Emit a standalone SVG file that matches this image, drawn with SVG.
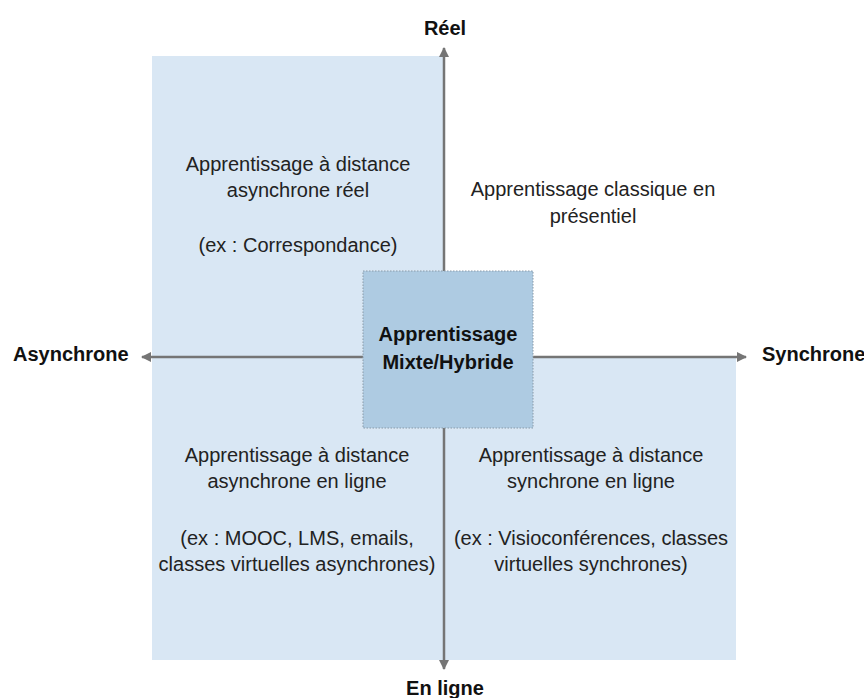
<svg xmlns="http://www.w3.org/2000/svg" width="864" height="698" viewBox="0 0 864 698">
<defs>
<style>
.t{font-family:"Liberation Sans",Arial,sans-serif;font-size:20px;fill:#222;text-anchor:middle}
.b{font-family:"Liberation Sans",Arial,sans-serif;font-size:20px;font-weight:bold;fill:#111}
.ax{stroke:#757575;stroke-width:2.5;fill:none}
.q{fill:#d9e7f4}
</style>
<marker id="ah" viewBox="0 0 10 10" refX="9" refY="5" markerWidth="4" markerHeight="4" orient="auto" markerUnits="strokeWidth">
<path d="M0,0 L10,5 L0,10 z" fill="#757575"/>
</marker>
</defs>
<rect width="864" height="698" fill="#fff"/>
<g id="quadrants">
<rect class="q" x="152" y="56" width="292" height="604"/>
<rect class="q" x="444" y="357" width="292" height="303"/>
</g>
<g id="connectors">
<line class="ax" x1="444" y1="357" x2="444" y2="48" marker-end="url(#ah)"/>
<line class="ax" x1="444" y1="357" x2="444" y2="669" marker-end="url(#ah)"/>
<line class="ax" x1="444" y1="357" x2="142" y2="357" marker-end="url(#ah)"/>
<line class="ax" x1="444" y1="357" x2="746" y2="357" marker-end="url(#ah)"/>
</g>
<g id="center">
<rect x="363" y="271" width="170" height="157" fill="#aecbe2" stroke="#8a9aa8" stroke-width="1" stroke-dasharray="1.5,1.5"/>
<text class="b" x="448" y="341" text-anchor="middle">Apprentissage</text>
<text class="b" x="448" y="369" text-anchor="middle">Mixte/Hybride</text>
</g>
<g id="axis-labels">
<text class="b" x="445" y="35" text-anchor="middle">Réel</text>
<text class="b" x="445" y="695" text-anchor="middle">En ligne</text>
<text class="b" x="13" y="361">Asynchrone</text>
<text class="b" x="762" y="361">Synchrone</text>
</g>
<g id="q1">
<text class="t" x="298" y="171">Apprentissage à distance</text>
<text class="t" x="298" y="197">asynchrone réel</text>
<text class="t" x="298" y="252">(ex : Correspondance)</text>
</g>
<g id="q2">
<text class="t" x="593" y="196">Apprentissage classique en</text>
<text class="t" x="593" y="223">présentiel</text>
</g>
<g id="q3">
<text class="t" x="297" y="462">Apprentissage à distance</text>
<text class="t" x="297" y="488">asynchrone en ligne</text>
<text class="t" x="297" y="545">(ex : MOOC, LMS, emails,</text>
<text class="t" x="297" y="571">classes virtuelles asynchrones)</text>
</g>
<g id="q4">
<text class="t" x="591" y="462">Apprentissage à distance</text>
<text class="t" x="591" y="488">synchrone en ligne</text>
<text class="t" x="591" y="545">(ex : Visioconférences, classes</text>
<text class="t" x="591" y="571">virtuelles synchrones)</text>
</g>
</svg>
